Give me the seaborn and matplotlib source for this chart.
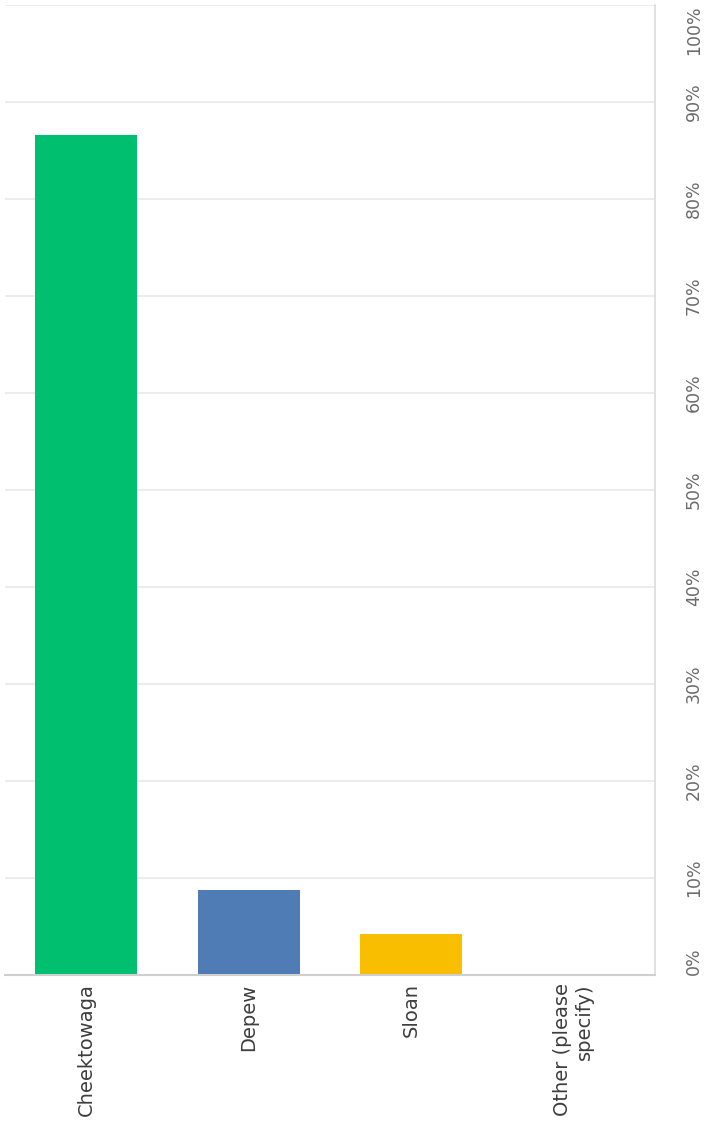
import matplotlib
matplotlib.use("Agg")
import matplotlib.pyplot as plt
import seaborn as sns
import pandas as pd

# Survey responses: share of respondents per community
categories = ["Cheektowaga", "Depew", "Sloan", "Other (please\nspecify)"]
shares = [86.6, 8.8, 4.2, 0.0]
colors = ["#00BF6F", "#507CB6", "#F9BE00", "#9E9E9E"]
tick_values = [0, 10, 20, 30, 40, 50, 60, 70, 80, 90, 100]
tick_labels = [f"{v}%" for v in tick_values]

df = pd.DataFrame({"category": categories, "share": shares})

sns.set_theme(style="white")
plt.rcParams["font.family"] = ["DejaVu Sans"]

fig = plt.figure(figsize=(7.08, 11.28), dpi=100)
ax = fig.add_axes([5 / 708, 153 / 1128, 650 / 708, 970 / 1128])

sns.barplot(data=df, x="category", y="share", hue="category",
            palette=colors, order=categories, hue_order=categories,
            width=0.625, legend=False, ax=ax, saturation=1,
            edgecolor="none", linewidth=0)

ax.set_xlim(-0.5, len(categories) - 0.5)
ax.set_ylim(0, 100)
ax.set_xlabel("")
ax.set_ylabel("")

# value axis on the right, rotated labels
ax.yaxis.tick_right()
ax.set_yticks(tick_values)
ax.set_yticklabels(tick_labels, rotation=90, va="center", ha="center",
                   color="#6b6b6b", fontsize=12.5)
ylabels = ax.get_yticklabels()
ylabels[0].set_va("bottom")
ylabels[-1].set_va("top")
ax.tick_params(axis="y", length=0, pad=28)

ax.set_xticks(range(len(categories)))
ax.set_xticklabels(categories, rotation=90, ha="center", va="top",
                   multialignment="right", color="#3d3d3d", fontsize=14)
ax.tick_params(axis="x", length=0, pad=6)

ax.grid(axis="y", color="#e9e9e9", linewidth=1.2)
ax.set_axisbelow(True)

for side in ["left", "top"]:
    ax.spines[side].set_visible(False)
ax.spines["bottom"].set_color("#cfcfcf")
ax.spines["bottom"].set_linewidth(1.5)
ax.spines["right"].set_color("#dcdcdc")
ax.spines["right"].set_linewidth(1.2)

fig.savefig("out.png", dpi=100, facecolor="white")
